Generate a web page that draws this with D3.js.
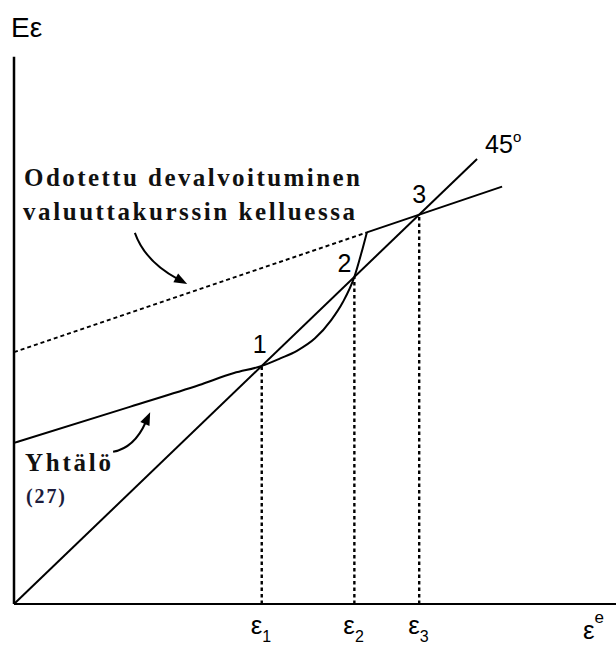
<!DOCTYPE html>
<html>
<head>
<meta charset="utf-8">
<script src="https://cdn.jsdelivr.net/npm/d3@7"></script>
<style>
  html, body { margin: 0; padding: 0; background: #fff; }
  svg { display: block; }
</style>
</head>
<body>
<script>
// Expected vs. actual devaluation: equilibria 1, 2, 3 on the 45-degree line.

// 45-degree line E(eps) = eps^e
const diagX = [0, 10];
const diagY = [0, 10];

// Equation (27): expected devaluation under the peg, bending up into the float line
const eqX = [0, 2.5, 4.0, 4.75, 5.35, 5.75, 6.11, 6.5, 6.85, 7.1, 7.35, 7.5, 7.62];
const eqY = [3.62, 4.43, 4.92, 5.19, 5.35, 5.52, 5.69, 5.97, 6.38, 6.78, 7.35, 7.88, 8.35];

// Expected devaluation with a floating exchange rate (dashed part, then solid part)
const floatDashX = [0, 7.62];
const floatDashY = [5.66, 8.35];
const floatSolidX = [7.62, 10.54];
const floatSolidY = [8.35, 9.38];

// Equilibrium expectations and their labels
const eqPoints = [5.35, 7.35, 8.75];
const pointLabels = ["1", "2", "3"];
const tickSubs = ["1", "2", "3"];

// Axis extents
const xMax = 13;
const yMax = 12.3;

const W = 616, H = 648;
const x = d3.scaleLinear().domain([0, 13]).range([14, 616]);
const y = d3.scaleLinear().domain([0, 10]).range([604, 159]);

const svg = d3.select("body").append("svg")
  .attr("width", W).attr("height", H)
  .attr("viewBox", `0 0 ${W} ${H}`);

const sans = "'Liberation Sans', Arial, Helvetica, sans-serif";
const serif = "'Liberation Serif', 'Times New Roman', serif";

const line = d3.line().x(d => x(d[0])).y(d => y(d[1]));
const zip = (a, b) => a.map((v, i) => [v, b[i]]);

// dotted drop lines from each equilibrium to the horizontal axis
svg.append("g").selectAll("line").data(eqPoints).join("line")
  .attr("x1", d => x(d)).attr("x2", d => x(d))
  .attr("y1", y(0)).attr("y2", d => y(d))
  .attr("stroke", "#000").attr("stroke-width", 2.4)
  .attr("stroke-dasharray", "3.5,3");

// axes
svg.append("line")
  .attr("x1", x(0)).attr("x2", x(0))
  .attr("y1", y(0)).attr("y2", y(yMax))
  .attr("stroke", "#000").attr("stroke-width", 2.5);
svg.append("line")
  .attr("x1", x(0)).attr("x2", x(xMax))
  .attr("y1", y(0)).attr("y2", y(0))
  .attr("stroke", "#000").attr("stroke-width", 2.2);

// 45-degree line
svg.append("path").datum(zip(diagX, diagY))
  .attr("d", line).attr("fill", "none")
  .attr("stroke", "#000").attr("stroke-width", 2);

// floating-rate line
svg.append("path").datum(zip(floatDashX, floatDashY))
  .attr("d", line).attr("fill", "none")
  .attr("stroke", "#000").attr("stroke-width", 2)
  .attr("stroke-dasharray", "4,3");
svg.append("path").datum(zip(floatSolidX, floatSolidY))
  .attr("d", line).attr("fill", "none")
  .attr("stroke", "#000").attr("stroke-width", 2);

// equation (27) curve
svg.append("path").datum(zip(eqX, eqY))
  .attr("d", d3.line().x(d => x(d[0])).y(d => y(d[1])).curve(d3.curveMonotoneX))
  .attr("fill", "none").attr("stroke", "#000").attr("stroke-width", 2)
  .attr("stroke-linejoin", "miter");

// curved annotation arrows (start, control, tip in data units)
const arrows = [
  [[2.61, 8.34], [2.83, 7.70], [3.74, 7.19]],
  [[2.14, 3.42], [2.60, 3.51], [2.94, 4.31]]
];
arrows.forEach(a => {
  const [s, c, e] = a.map(p => [x(p[0]), y(p[1])]);
  const dx = e[0] - c[0], dy = e[1] - c[1];
  const len = Math.hypot(dx, dy);
  const ux = dx / len, uy = dy / len;
  const headL = 13, headW = 5;
  const bx = e[0] - ux * headL, by = e[1] - uy * headL;
  const p = d3.path();
  p.moveTo(s[0], s[1]);
  p.quadraticCurveTo(c[0], c[1], bx + ux * 2, by + uy * 2);
  svg.append("path").attr("d", p.toString())
    .attr("fill", "none").attr("stroke", "#000").attr("stroke-width", 2);
  svg.append("path")
    .attr("d", `M${e[0]},${e[1]} L${bx - uy * headW},${by + ux * headW} L${bx + uy * headW},${by - ux * headW} Z`)
    .attr("fill", "#000");
});

// equilibrium numbers
const labelOffsets = [[-2, -13], [-10, -5], [0, -12]];
svg.append("g").selectAll("text").data(eqPoints).join("text")
  .attr("x", (d, i) => x(d) + labelOffsets[i][0])
  .attr("y", (d, i) => y(d) + labelOffsets[i][1])
  .attr("text-anchor", "middle")
  .attr("font-family", sans).attr("font-size", 25)
  .text((d, i) => pointLabels[i]);

// "45°" at the end of the diagonal
const t45 = svg.append("text")
  .attr("x", x(diagX[1]) + 8).attr("y", y(diagY[1]) - 6)
  .attr("font-family", sans).attr("font-size", 25);
t45.append("tspan").text("45");
t45.append("tspan").attr("font-size", 15).attr("dy", -11).text("o");

// axis titles
svg.append("text").attr("x", 11).attr("y", 37)
  .attr("font-family", sans).attr("font-size", 28).text("Eε");

const xt = svg.append("text").attr("x", 583).attr("y", 639)
  .attr("font-family", sans).attr("font-size", 26);
xt.append("tspan").text("ε");
xt.append("tspan").attr("font-size", 17).attr("dy", -16).text("e");

// epsilon tick labels under each drop line
svg.append("g").selectAll("text").data(eqPoints).join("text")
  .attr("x", d => x(d) - 11).attr("y", 634)
  .attr("font-family", sans).attr("font-size", 26)
  .each(function (d, i) {
    const t = d3.select(this);
    t.append("tspan").text("ε");
    t.append("tspan").attr("font-size", 16).attr("dy", 8).text(tickSubs[i]);
  });

// annotations
const note = svg.append("g").attr("font-family", serif).attr("font-weight", "bold")
  .attr("fill", "#111");
note.append("text").attr("x", 24).attr("y", 186)
  .attr("font-size", 25).attr("textLength", 336).attr("lengthAdjust", "spacing")
  .text("Odotettu devalvoituminen");
note.append("text").attr("x", 23).attr("y", 220)
  .attr("font-size", 25).attr("textLength", 332).attr("lengthAdjust", "spacing")
  .text("valuuttakurssin kelluessa");
note.append("text").attr("x", 25).attr("y", 471)
  .attr("font-size", 25).attr("textLength", 86).attr("lengthAdjust", "spacing")
  .text("Yhtälö");
note.append("text").attr("x", 26).attr("y", 503)
  .attr("font-size", 20).attr("textLength", 39).attr("lengthAdjust", "spacing")
  .attr("fill", "#1c1c3c")
  .text("(27)");
</script>
</body>
</html>
